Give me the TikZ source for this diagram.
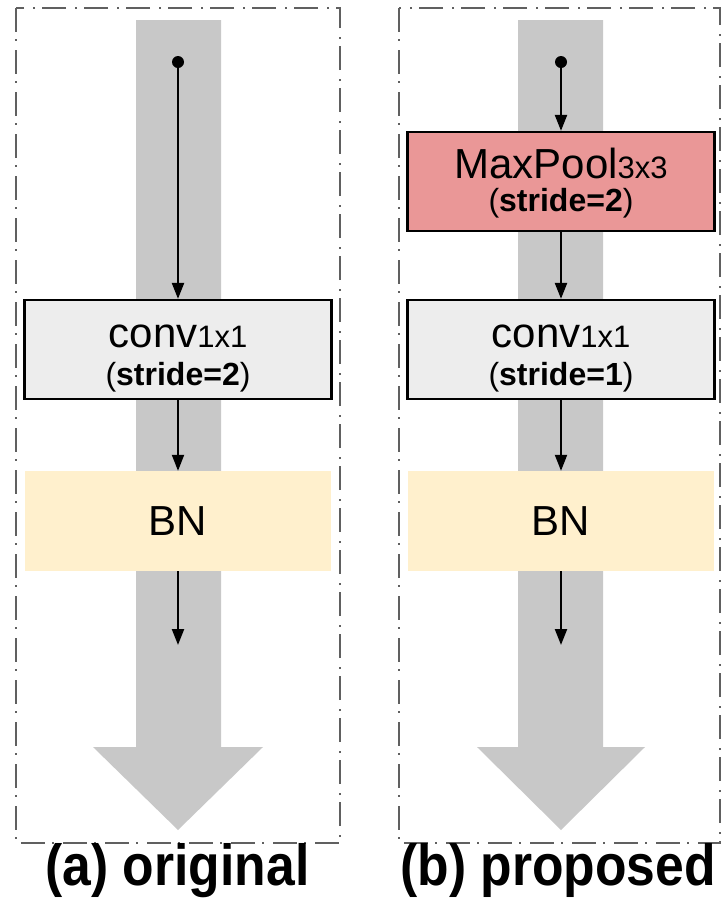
\documentclass[tikz,border=0pt]{standalone}
\usepackage{fontspec}
\setmainfont{Liberation Sans}
\usetikzlibrary{arrows.meta}

\definecolor{flowgray}{HTML}{C8C8C8}
\definecolor{framegray}{HTML}{606060}
\definecolor{convfill}{HTML}{EDEDED}
\definecolor{poolfill}{HTML}{EA9797}
\definecolor{bnfill}{HTML}{FFF0CD}

\newcommand{\bigtxt}{\fontsize{42}{48}\selectfont}
\newcommand{\subtxt}{\fontsize{31}{36}\selectfont}
\newcommand{\stridetxt}[1]{\fontsize{32}{36}\selectfont(\textbf{stride=#1})}
\newcommand{\captxt}[1]{\scalebox{0.89}[1]{\fontsize{58}{64}\selectfont\bfseries #1}}

\tikzset{
  panelframe/.style={draw=framegray, line width=2.2pt,
    dash pattern=on 24pt off 7pt on 2pt off 9pt},
  flowband/.style={fill=flowgray, draw=none},
  layerbox/.style={rectangle, draw=black, line width=2.2pt, inner sep=0pt,
    minimum width=307pt, minimum height=99pt},
  bnbox/.style={rectangle, draw=none, fill=bnfill, inner sep=0pt,
    minimum width=306pt, minimum height=100pt},
  startdot/.style={circle, fill=black, inner sep=0pt, minimum size=12pt},
  flowarrow/.style={line width=2.2pt, -{Triangle[length=16pt,width=12pt]}},
  txt/.style={inner sep=0pt, anchor=base},
}

\begin{document}
\begin{tikzpicture}[x=1pt, y=-1pt]
  \useasboundingbox (0,0) rectangle (725,898);

  % dash-dot panel frames
  \draw[panelframe] (16,8) rectangle (340,843);
  \draw[panelframe] (399,8) rectangle (720,843);

  % wide gray flow arrows behind the layers
  \fill[flowband] (136,20) -- (221,20) -- (221,747) -- (263,747) -- (178,830)
    -- (93,747) -- (136,747) -- cycle;
  \fill[flowband] (518,20) -- (603,20) -- (603,747) -- (645,747) -- (561,830)
    -- (477,747) -- (518,747) -- cycle;

  % ---------- (a) original ----------
  \node[startdot] (dotA) at (178,62) {};
  \node[layerbox, fill=convfill] (convA) at (178,349.5) {};
  \node[txt] (convAtop) at (178,347) {\bigtxt conv\subtxt 1x1};
  \node[txt] (convAbot) at (178,385) {\stridetxt{2}};
  \node[bnbox] (bnA) at (178,521) {};
  \node[txt] (bnAtxt) at (178,535) {\bigtxt BN};
  \coordinate (endA) at (178,645);

  \draw[flowarrow] (dotA.center) -- (convA.north);
  \draw[flowarrow] (convA.south) -- (bnA.north);
  \draw[flowarrow] (bnA.south) -- (endA);

  \node[txt] (capA) at (177.5,885.5) {\captxt{(a) original}};

  % ---------- (b) proposed ----------
  \node[startdot] (dotB) at (561,62) {};
  \node[layerbox, fill=poolfill] (poolB) at (561,181.5) {};
  \node[txt] (poolBtop) at (561,178) {\bigtxt MaxPool\subtxt 3x3};
  \node[txt] (poolBbot) at (561,211) {\stridetxt{2}};
  \node[layerbox, fill=convfill] (convB) at (561,349.5) {};
  \node[txt] (convBtop) at (561,347) {\bigtxt conv\subtxt 1x1};
  \node[txt] (convBbot) at (561,385) {\stridetxt{1}};
  \node[bnbox] (bnB) at (561,521) {};
  \node[txt] (bnBtxt) at (561,535) {\bigtxt BN};
  \coordinate (endB) at (561,645);

  \draw[flowarrow] (dotB.center) -- (poolB.north);
  \draw[flowarrow] (poolB.south) -- (convB.north);
  \draw[flowarrow] (convB.south) -- (bnB.north);
  \draw[flowarrow] (bnB.south) -- (endB);

  \node[txt] (capB) at (558,885.5) {\captxt{(b) proposed}};
\end{tikzpicture}
\end{document}
